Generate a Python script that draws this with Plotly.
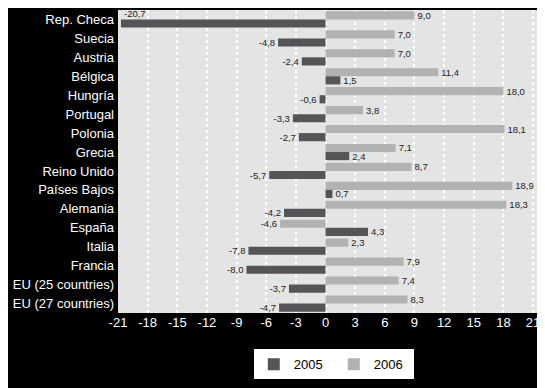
import plotly.graph_objects as go

categories = ["Rep. Checa", "Suecia", "Austria", "Bélgica", "Hungría", "Portugal",
              "Polonia", "Grecia", "Reino Unido", "Países Bajos", "Alemania",
              "España", "Italia", "Francia", "EU (25 countries)", "EU (27 countries)"]
v2006 = [9.0, 7.0, 7.0, 11.4, 18.0, 3.8, 18.1, 7.1, 8.7, 18.9, 18.3, -4.6, 2.3, 7.9, 7.4, 8.3]
v2005 = [-20.7, -4.8, -2.4, 1.5, -0.6, -3.3, -2.7, 2.4, -5.7, 0.7, -4.2, 4.3, -7.8, -8.0, -3.7, -4.7]
xticks = [-21, -18, -15, -12, -9, -6, -3, 0, 3, 6, 9, 12, 15, 18, 21]

DARK = "#555557"
LIGHT = "#b2b2b2"
LABEL_FONT = dict(family="Liberation Sans, Arial", size=9.5, color="#222222")

fig = go.Figure()
fig.add_trace(go.Bar(
    name="2006", y=categories, x=v2006, orientation="h",
    marker=dict(color=LIGHT, line=dict(width=0)),
    texttemplate="%{x:.1f}", textposition="outside", textfont=LABEL_FONT,
    constraintext="none", cliponaxis=False,
))
pos2005 = ["none" if abs(v) > 20 else "outside" for v in v2005]
fig.add_trace(go.Bar(
    name="2005", y=categories, x=v2005, orientation="h",
    marker=dict(color=DARK, line=dict(width=0)),
    texttemplate="%{x:.1f}", textposition=pos2005, textfont=LABEL_FONT,
    constraintext="none", cliponaxis=False,
))

# label for the bar running off the left side
for c, v in zip(categories, v2005):
    if abs(v) > 20:
        fig.add_annotation(x=v, y=c, text=f"{v:.1f}".replace(".", ","), showarrow=False,
                           xanchor="left", yanchor="middle", yshift=6, xshift=1,
                           font=dict(family=LABEL_FONT["family"], size=9.5, color="#222222"))

fig.update_layout(
    width=537, height=380, autosize=False,
    margin=dict(l=110, r=8, t=2, b=75),
    paper_bgcolor="black", plot_bgcolor="#e4e4e4",
    barmode="group", bargap=0.14, bargroupgap=0,
    separators=",.",
    font=dict(family="Liberation Sans, Arial", size=13, color="white"),
    showlegend=True,
    legend=dict(orientation="h", x=0.515, xanchor="center", y=-0.12, yanchor="top",
                bgcolor="white", font=dict(color="black", size=13), traceorder="reversed",
                entrywidth=35, itemwidth=30),
    xaxis=dict(range=[-21, 21.4], tickvals=xticks, ticktext=[str(t) for t in xticks],
               showgrid=True, gridcolor="white", griddash="dot", gridwidth=1.5,
               zeroline=False, showline=False, ticks="",
               tickfont=dict(color="white", size=13), fixedrange=True),
    yaxis=dict(autorange="reversed", showgrid=False, zeroline=False, ticks="",
               tickfont=dict(color="white", size=13), ticklabelstandoff=3),
)

fig.write_html("out.html")
